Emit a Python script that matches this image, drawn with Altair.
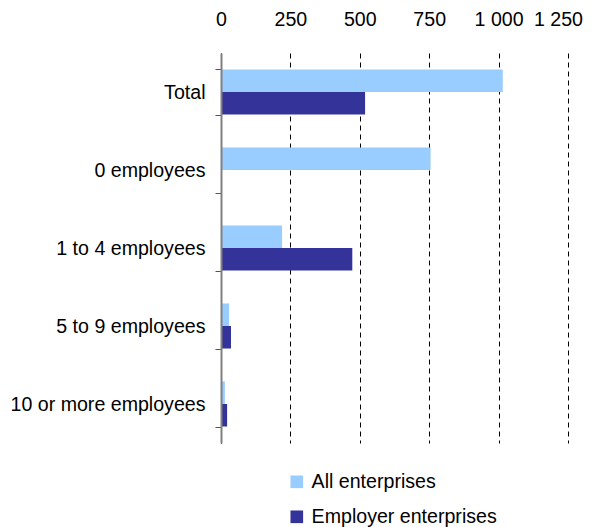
import altair as alt
import pandas as pd

categories = ["Total", "0 employees", "1 to 4 employees", "5 to 9 employees", "10 or more employees"]
all_enterprises = [1015, 755, 220, 29, 14]
employer_enterprises = [519, 0, 473, 36, 22]
series = ["All enterprises", "Employer enterprises"]
colors = ["#99CCFF", "#333399"]
x_ticks = [0, 250, 500, 750, 1000, 1250]

rows = []
for c, a, e in zip(categories, all_enterprises, employer_enterprises):
    rows.append({"category": c, "series": series[0], "value": a})
    rows.append({"category": c, "series": series[1], "value": e})
df = pd.DataFrame(rows)

FONT = "Liberation Sans"
FS = 19.6

chart = alt.Chart(df).mark_bar().encode(
    x=alt.X("value:Q",
            scale=alt.Scale(domain=[0, 1250], nice=False, zero=True),
            axis=alt.Axis(orient="top", values=x_ticks, title=None, domain=False,
                          ticks=False, labelPadding=24, grid=True, gridColor="black",
                          gridDash=[5, 4], gridWidth=1, zindex=0, labelOverlap=False,
                          labelFlush=False,
                          labelOffset=alt.condition("datum.value == 1250", alt.value(-10), alt.value(0)),
                          labelExpr="replace(format(datum.value, ','), ',', ' ')",
                          labelFont=FONT, labelFontSize=FS, labelColor="black")),
    y=alt.Y("category:N", sort=categories,
            scale=alt.Scale(paddingInner=0.423, paddingOuter=0.2115),
            axis=alt.Axis(title=None, tickBand="extent", tickSize=6, tickColor="#555555",
                          domainColor="#808080", domainWidth=2, labelPadding=10,
                          labelFont=FONT, labelFontSize=FS, labelColor="black",
                          labelLimit=300, zindex=1)),
    yOffset=alt.YOffset("series:N", sort=series, scale=alt.Scale(paddingInner=0, paddingOuter=0)),
    color=alt.Color("series:N", sort=series,
                    scale=alt.Scale(domain=series, range=colors),
                    legend=alt.Legend(title=None, orient="none", legendX=66, legendY=419,
                                      direction="vertical", symbolType="square",
                                      symbolSize=160, symbolStrokeWidth=0,
                                      labelFont=FONT, labelFontSize=FS, labelColor="black",
                                      labelOffset=5, rowPadding=14, symbolOpacity=1,
                                      labelLimit=400)),
).properties(
    width=347, height=390,
    autosize=alt.AutoSizeParams(type="none"),
    padding={"left": 213, "top": 45, "right": 18, "bottom": 84},
).configure_view(stroke=None)

chart.save("out.html", embed_options={"renderer": "svg", "actions": False})
